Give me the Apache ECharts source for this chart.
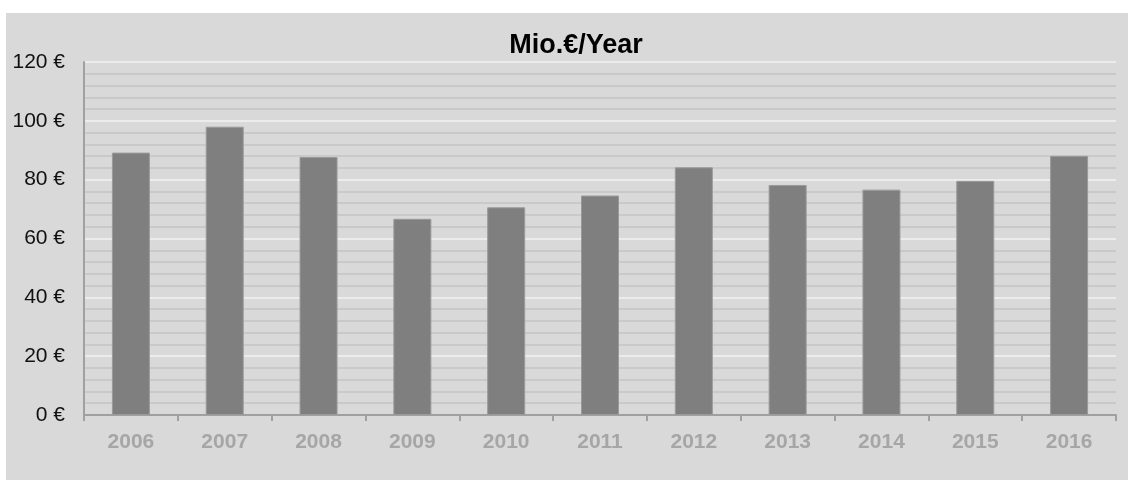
<!DOCTYPE html>
<html>
<head>
<meta charset="utf-8">
<style>
  html, body { margin: 0; padding: 0; background: #fff; }
  #chart { width: 1128px; height: 480px; }
</style>
<script src="https://cdn.jsdelivr.net/npm/echarts@6/dist/echarts.min.js"></script>
</head>
<body>
<div id="chart"></div>
<script>
// data
const years = ['2006', '2007', '2008', '2009', '2010', '2011', '2012', '2013', '2014', '2015', '2016'];
const values = [89.2, 98.0, 87.7, 66.7, 70.6, 74.6, 84.2, 78.2, 76.6, 79.6, 88.1];

const chart = echarts.init(document.getElementById('chart'));

chart.setOption({
  backgroundColor: '#fff',
  animation: false,
  graphic: [
    {
      type: 'rect',
      z: -10,
      shape: { x: 6, y: 13, width: 1122, height: 467 },
      style: { fill: '#d9d9d9' }
    }
  ],
  title: {
    text: 'Mio.€/Year',
    left: 571,
    top: 27,
    textAlign: 'center',
    textStyle: {
      fontFamily: 'Liberation Sans, Arial, sans-serif',
      fontSize: 27,
      fontWeight: 'bold',
      color: '#000'
    }
  },
  grid: {
    left: 84,
    right: 12,
    top: 62,
    bottom: 65
  },
  xAxis: {
    type: 'category',
    data: years,
    axisLine: { lineStyle: { color: '#a0a0a0', width: 2 } },
    axisTick: { show: true, length: 6, lineStyle: { color: '#a0a0a0', width: 2 } },
    axisLabel: {
      margin: 17,
      fontFamily: 'Liberation Sans, Arial, sans-serif',
      fontSize: 21,
      fontWeight: 'bold',
      color: '#a6a6a6'
    }
  },
  yAxis: {
    type: 'value',
    min: 0,
    max: 120,
    interval: 20,
    axisLine: { show: true, lineStyle: { color: '#a0a0a0', width: 2 } },
    axisTick: { show: false },
    axisLabel: {
      margin: 19,
      fontFamily: 'Liberation Sans, Arial, sans-serif',
      fontSize: 21,
      color: '#111',
      formatter: v => v + ' €'
    },
    splitLine: { lineStyle: { color: '#ececec', width: 2 } },
    minorTick: { show: false, splitNumber: 5 },
    minorSplitLine: { show: true, lineStyle: { color: '#c9c9c9', width: 2 } }
  },
  series: [
    {
      type: 'bar',
      data: values,
      barWidth: 38,
      itemStyle: {
        color: '#7f7f7f',
        borderColor: '#9a9a9a',
        borderWidth: 1
      }
    }
  ]
});

window.addEventListener('resize', () => chart.resize());
</script>
</body>
</html>
